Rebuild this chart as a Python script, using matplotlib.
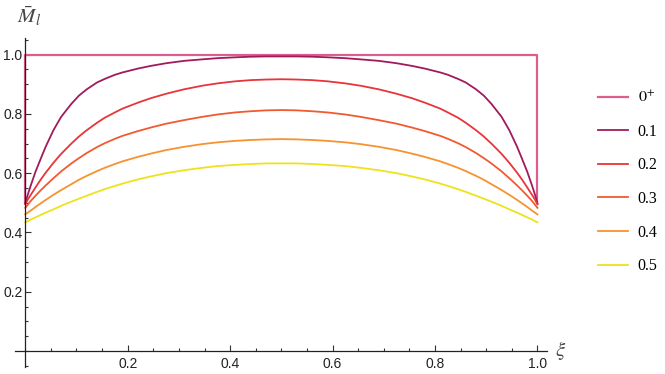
import matplotlib.pyplot as plt
from matplotlib.ticker import MultipleLocator, FixedLocator

plt.rcParams['font.family'] = ['Liberation Sans', 'DejaVu Sans']
plt.rcParams['mathtext.fontset'] = 'stix'

# values
xi = [0, 0.005, 0.01, 0.02, 0.03, 0.04, 0.055, 0.07, 0.09, 0.105, 0.12, 0.14, 0.155,
      0.175, 0.19, 0.22, 0.245, 0.275, 0.31, 0.345, 0.375, 0.41, 0.44, 0.47, 0.5,
      0.53, 0.56, 0.59, 0.625, 0.655, 0.69, 0.725, 0.755, 0.78, 0.81, 0.825, 0.845,
      0.86, 0.88, 0.895, 0.91, 0.93, 0.945, 0.96, 0.97, 0.98, 0.99, 0.995, 1.0]

m_01 = [0.498, 0.528, 0.555, 0.605, 0.648, 0.690, 0.745, 0.790, 0.834, 0.862, 0.883, 0.906, 0.918,
        0.932, 0.940, 0.953, 0.962, 0.971, 0.979, 0.984, 0.988, 0.991, 0.993, 0.994, 0.994,
        0.994, 0.993, 0.991, 0.988, 0.984, 0.979, 0.971, 0.962, 0.953, 0.940, 0.932, 0.918,
        0.906, 0.883, 0.862, 0.834, 0.790, 0.745, 0.690, 0.648, 0.605, 0.555, 0.528, 0.498]
m_02 = [0.495, 0.511, 0.525, 0.552, 0.578, 0.602, 0.635, 0.665, 0.700, 0.724, 0.745, 0.770, 0.787,
        0.805, 0.818, 0.838, 0.853, 0.868, 0.883, 0.895, 0.903, 0.910, 0.914, 0.916, 0.917,
        0.916, 0.914, 0.910, 0.903, 0.895, 0.883, 0.868, 0.853, 0.838, 0.818, 0.805, 0.787,
        0.770, 0.745, 0.724, 0.700, 0.665, 0.635, 0.602, 0.578, 0.552, 0.525, 0.511, 0.495]
m_03 = [0.483, 0.494, 0.505, 0.524, 0.542, 0.559, 0.583, 0.606, 0.633, 0.651, 0.668, 0.688, 0.701,
        0.716, 0.726, 0.742, 0.754, 0.767, 0.779, 0.790, 0.798, 0.805, 0.809, 0.812, 0.813,
        0.812, 0.809, 0.805, 0.798, 0.790, 0.779, 0.767, 0.754, 0.742, 0.726, 0.716, 0.701,
        0.688, 0.668, 0.651, 0.633, 0.606, 0.583, 0.559, 0.542, 0.524, 0.505, 0.494, 0.483]
m_04 = [0.461, 0.467, 0.473, 0.486, 0.498, 0.510, 0.527, 0.543, 0.563, 0.578, 0.591, 0.607, 0.618,
        0.631, 0.640, 0.655, 0.666, 0.678, 0.689, 0.698, 0.704, 0.709, 0.712, 0.714, 0.715,
        0.714, 0.712, 0.709, 0.704, 0.698, 0.689, 0.678, 0.666, 0.655, 0.640, 0.631, 0.618,
        0.607, 0.591, 0.578, 0.563, 0.543, 0.527, 0.510, 0.498, 0.486, 0.473, 0.467, 0.461]
m_05 = [0.434, 0.438, 0.443, 0.451, 0.459, 0.467, 0.478, 0.490, 0.504, 0.514, 0.524, 0.537, 0.546,
        0.557, 0.565, 0.579, 0.589, 0.600, 0.610, 0.618, 0.624, 0.628, 0.631, 0.633, 0.633,
        0.633, 0.631, 0.628, 0.624, 0.618, 0.610, 0.600, 0.589, 0.579, 0.565, 0.557, 0.546,
        0.537, 0.524, 0.514, 0.504, 0.490, 0.478, 0.467, 0.459, 0.451, 0.443, 0.438, 0.434]

# the 0+ limit is a box
xi_0 = [0, 0, 1, 1]
m_0 = [0.5, 1.0, 1.0, 0.5]

labels = ["$0^{+}$", "0.1", "0.2", "0.3", "0.4", "0.5"]
colors = ["#DB5E8E", "#A11A5C", "#E8343A", "#F15A30", "#F7922F", "#EEE21C"]

fig = plt.figure(figsize=(6.65, 3.74), dpi=100)
ax = fig.add_axes([0.0226, 0.0195, 0.7995, 0.878])

ax.plot(xi_0, m_0, color=colors[0], lw=1.6, label=labels[0])
for m, lab, c in zip([m_01, m_02, m_03, m_04, m_05], labels[1:], colors[1:]):
    ax.plot(xi, m, color=c, lw=1.3, label=lab)

ax.set_xlim(-0.02, 1.018)
ax.set_ylim(-0.053, 1.055)

# mathematica-like axes through the origin
for s in ["top", "right"]:
    ax.spines[s].set_visible(False)
ax.spines["left"].set_position(("data", 0))
ax.spines["bottom"].set_position(("data", 0))
for s in ["left", "bottom"]:
    ax.spines[s].set_color("#222222")
    ax.spines[s].set_linewidth(0.9)

ax.xaxis.set_major_locator(FixedLocator([0.2, 0.4, 0.6, 0.8, 1.0]))
ax.yaxis.set_major_locator(FixedLocator([0.2, 0.4, 0.6, 0.8, 1.0]))
ax.xaxis.set_minor_locator(MultipleLocator(0.05))
ax.yaxis.set_minor_locator(MultipleLocator(0.05))
ax.xaxis.set_major_formatter(lambda v, p: f"{v:.1f}")
ax.yaxis.set_major_formatter(lambda v, p: f"{v:.1f}")
ax.tick_params(which="both", direction="in", color="#333333", width=0.8,
               labelsize=10, labelcolor="#222222")
ax.tick_params(which="major", length=4.2)
ax.tick_params(which="minor", length=2.4)
ax.tick_params(axis="y", pad=2)
ax.tick_params(axis="x", pad=4)

ax.text(1.035, 0.0, r"$\xi$", fontsize=15, color="#444444", va="center", ha="left",
        transform=ax.transData, clip_on=False)
ax.text(-0.016, 1.13, r"$\bar{M}_l$", fontsize=15, color="#444444", va="center", ha="left",
        transform=ax.transData, clip_on=False)

fig.legend(loc="upper left", bbox_to_anchor=(0.877, 0.797), frameon=False,
           prop={"family": "Liberation Serif", "size": 11.5},
           handlelength=1.9, handletextpad=0.6, labelspacing=1.1)

fig.savefig("out.png", dpi=100)
